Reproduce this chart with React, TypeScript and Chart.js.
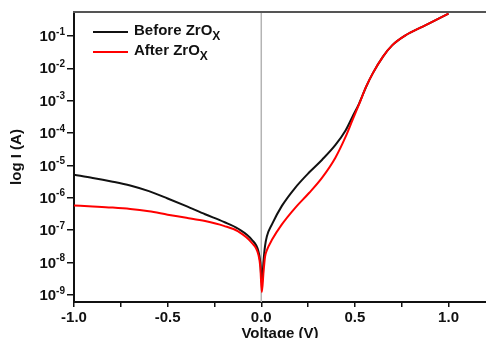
import React, { useEffect, useRef } from "react";
import { Chart, registerables } from "chart.js";

Chart.register(...registerables);

// Voltage (V)
const voltage = [
  -1.0, -0.9, -0.8, -0.7, -0.6, -0.5, -0.4, -0.3, -0.2, -0.123, -0.05, -0.015, -0.005,
  0.003, 0.012, 0.02, 0.03, 0.057, 0.11, 0.18, 0.255, 0.325, 0.395, 0.45, 0.487, 0.523,
  0.56, 0.596, 0.65, 0.7, 0.773, 0.862, 0.952, 1.0,
];

// Current (A) before ZrOx
const beforeCurrent = [
  5.1e-6, 4.1e-6, 3.2e-6, 2.4e-6, 1.6e-6, 9.5e-7, 5.5e-7, 3.1e-7, 1.8e-7, 1.1e-7, 5.0e-8, 2.2e-8, 1.0e-8,
  2.2e-9, 1.1e-8, 3.2e-8, 6.5e-8, 1.5e-7, 5.6e-7, 2.0e-6, 6.0e-6, 1.5e-5, 4.2e-5, 1.2e-4, 3.2e-4, 8.3e-4,
  2.7e-3, 7.1e-3, 2.3e-2, 5.2e-2, 0.107, 0.195, 0.355, 0.49,
];

// Current (A) after ZrOx
const afterCurrent = [
  5.8e-7, 5.4e-7, 5.0e-7, 4.5e-7, 3.8e-7, 3.0e-7, 2.4e-7, 1.9e-7, 1.35e-7, 9.1e-8, 4.0e-8, 1.7e-8, 7.1e-9,
  1.2e-9, 5.0e-9, 1.5e-8, 2.4e-8, 5.0e-8, 1.5e-7, 4.8e-7, 1.4e-6, 4.2e-6, 1.7e-5, 7.6e-5, 2.5e-4, 7.9e-4,
  2.7e-3, 7.1e-3, 2.3e-2, 5.2e-2, 0.107, 0.195, 0.355, 0.49,
];

const seriesNames = ["Before ZrO", "After ZrO"];
const seriesSubscript = "X";
const seriesColors = ["#111111", "#ff0000"];

const xTickValues = [-1.0, -0.75, -0.5, -0.25, 0.0, 0.25, 0.5, 0.75, 1.0];
const yTickExponents = [-9, -8, -7, -6, -5, -4, -3, -2, -1];

const xTitle = "Voltage (V)";
const yTitle = "log I (A)";

const FONT = "'Liberation Sans', Arial, sans-serif";

const decorPlugin = {
  id: "decor",
  beforeDatasetsDraw(chart: any) {
    const { ctx, chartArea, scales } = chart;
    const x0 = scales.x.getPixelForValue(0);
    ctx.save();
    ctx.strokeStyle = "#b4b4b4";
    ctx.lineWidth = 1.5;
    ctx.beginPath();
    ctx.moveTo(x0, chartArea.top);
    ctx.lineTo(x0, chartArea.bottom);
    ctx.stroke();
    ctx.restore();
  },
  afterDraw(chart: any) {
    const { ctx, chartArea, scales } = chart;
    ctx.save();
    // top frame
    ctx.strokeStyle = "#555555";
    ctx.lineWidth = 2;
    ctx.beginPath();
    ctx.moveTo(chartArea.left - 1, chartArea.top);
    ctx.lineTo(chart.width, chartArea.top);
    ctx.stroke();

    // y tick labels 10^n
    const ys = scales.y;
    ctx.fillStyle = "#111111";
    ctx.textBaseline = "middle";
    ctx.textAlign = "right";
    const rightX = chartArea.left - 9;
    for (const e of yTickExponents) {
      const py = ys.getPixelForValue(Math.pow(10, e));
      const expText = "-" + String(Math.abs(e));
      ctx.font = `bold 10px ${FONT}`;
      const ew = ctx.measureText(expText).width;
      ctx.fillText(expText, rightX, py - 4);
      ctx.font = `bold 15px ${FONT}`;
      ctx.fillText("10", rightX - ew, py + 1);
    }

    // legend
    ctx.textAlign = "left";
    seriesNames.forEach((name, i) => {
      const ly = chartArea.top + 20 + i * 20;
      const lx = chartArea.left + 19;
      ctx.strokeStyle = seriesColors[i];
      ctx.lineWidth = 2;
      ctx.beginPath();
      ctx.moveTo(lx, ly);
      ctx.lineTo(lx + 35, ly);
      ctx.stroke();
      ctx.fillStyle = "#111111";
      ctx.font = `bold 15px ${FONT}`;
      ctx.textBaseline = "middle";
      ctx.fillText(name, lx + 41, ly - 1);
      const w = ctx.measureText(name).width;
      ctx.font = `bold 12px ${FONT}`;
      ctx.fillText(seriesSubscript, lx + 41 + w, ly + 5);
    });
    ctx.restore();
  },
};

export default function App() {
  const canvasRef = useRef<HTMLCanvasElement | null>(null);

  useEffect(() => {
    if (!canvasRef.current) return;
    const chart = new Chart(canvasRef.current, {
      type: "line",
      data: {
        datasets: [
          {
            label: seriesNames[0] + seriesSubscript,
            data: voltage.map((v, i) => ({ x: v, y: beforeCurrent[i] })),
            borderColor: seriesColors[0],
            backgroundColor: seriesColors[0],
            borderWidth: 2,
            pointRadius: 0,
            tension: 0.4,
            cubicInterpolationMode: "monotone",
            order: 2,
          },
          {
            label: seriesNames[1] + seriesSubscript,
            data: voltage.map((v, i) => ({ x: v, y: afterCurrent[i] })),
            borderColor: seriesColors[1],
            backgroundColor: seriesColors[1],
            borderWidth: 2,
            pointRadius: 0,
            tension: 0.4,
            cubicInterpolationMode: "monotone",
            order: 1,
          },
        ],
      },
      options: {
        animation: false,
        responsive: true,
        maintainAspectRatio: false,
        layout: { padding: { top: 12, left: 0, right: 0, bottom: 0 } },
        plugins: {
          legend: { display: false },
          tooltip: { enabled: false },
        },
        scales: {
          x: {
            type: "linear",
            min: -1.0,
            max: 1.2,
            afterBuildTicks: (scale: any) => {
              scale.ticks = xTickValues.map((v) => ({ value: v }));
            },
            afterFit: (scale: any) => {
              scale.height = 36;
            },
            ticks: {
              autoSkip: false,
              maxRotation: 0,
              padding: 2,
              color: "#111111",
              font: { family: FONT, size: 15, weight: "bold" },
              callback: (value: any) => {
                const v = Number(value);
                return Math.abs(v * 2 - Math.round(v * 2)) < 1e-9 ? v.toFixed(1) : "";
              },
            },
            grid: {
              display: true,
              drawOnChartArea: false,
              drawTicks: true,
              tickLength: 5,
              color: "#111111",
              lineWidth: 1.5,
            },
            border: { display: true, color: "#111111", width: 2 },
            title: {
              display: true,
              text: xTitle,
              color: "#111111",
              font: { family: FONT, size: 15, weight: "bold", lineHeight: 1 },
              padding: { top: 0, bottom: -3 },
            },
          },
          y: {
            type: "logarithmic",
            min: 6e-10,
            max: 0.55,
            afterBuildTicks: (scale: any) => {
              scale.ticks = yTickExponents.map((e) => ({ value: Math.pow(10, e) }));
            },
            afterFit: (scale: any) => {
              scale.width = 74;
            },
            ticks: {
              autoSkip: false,
              callback: () => "",
            },
            grid: {
              display: true,
              drawOnChartArea: false,
              drawTicks: true,
              tickLength: 7,
              color: "#111111",
              lineWidth: 1.5,
            },
            border: { display: true, color: "#111111", width: 2 },
            title: {
              display: true,
              text: yTitle,
              color: "#111111",
              font: { family: FONT, size: 15, weight: "bold", lineHeight: 1 },
              padding: { top: 9, bottom: 0 },
            },
          },
        },
      },
      plugins: [decorPlugin],
    });
    return () => chart.destroy();
  }, []);

  return (
    <div style={{ position: "fixed", left: 0, top: 0, width: 486, height: 338, background: "#fff" }}>
      <canvas ref={canvasRef} />
    </div>
  );
}
